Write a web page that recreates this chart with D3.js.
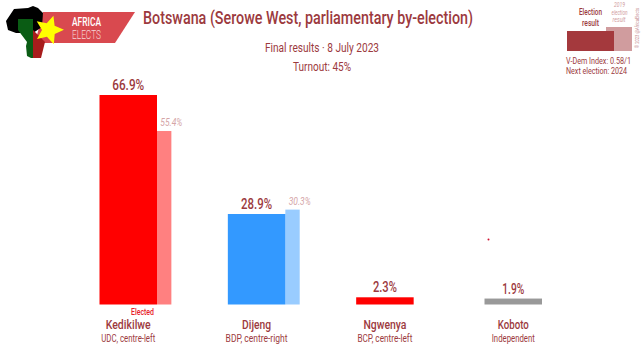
<!DOCTYPE html>
<html>
<head>
<meta charset="utf-8">
<title>Botswana (Serowe West, parliamentary by-election)</title>
<script src="https://d3js.org/d3.v7.min.js"></script>
<style>
  html, body { margin: 0; padding: 0; background: #fff; overflow: hidden; }
  text { font-family: Roboto, sans-serif; fill: #9c3a3e; }
</style>
</head>
<body>
<div id="container"></div>
<script>
// DATA
const candidates = ["Kedikilwe", "Dijeng", "Ngwenya", "Koboto"];
const parties = ["UDC, centre-left", "BDP, centre-right", "BCP, centre-left", "Independent"];
const results = [66.9, 28.9, 2.3, 1.9];
const previous = [55.4, 30.3, null, null];
const barColors = ["#ff0000", "#3399ff", "#ff0000", "#999999"];
const prevColors = ["#ff8080", "#99ccff", null, null];

// label widths measured off the chart, the font there is narrower than anything installed
const resultWidths = [32, 31, 24, 22];
const nameWidths = [45, 29, 43, 31];
const partyWidths = [54, 62, 55, 43];

const width = 644, height = 357;
const svg = d3.select("#container").append("svg")
  .attr("width", width).attr("height", height);

// SCALES
const x = d3.scaleBand().domain(candidates).range([99.5, 542]).paddingInner(0.552).paddingOuter(0);
const y = d3.scaleLinear().domain([0, 66.9]).range([304.5, 95]);
const prevWidth = x.bandwidth() / 4;
const idx = d => candidates.indexOf(d);

// squeeze a text to a given width
function fit(sel, w) {
  return sel.attr("textLength", w).attr("lengthAdjust", "spacingAndGlyphs");
}
function label(txt, px, py, size, w, anchor) {
  const t = svg.append("text").attr("x", px).attr("y", py)
    .attr("text-anchor", anchor || "middle").attr("font-size", size).text(txt);
  return fit(t, w);
}

// PREVIOUS RESULT BARS
svg.selectAll(".prev").data(candidates.filter((d, i) => previous[i] !== null)).enter().append("rect")
  .attr("class", "prev")
  .attr("x", d => x(d) + x.bandwidth())
  .attr("width", prevWidth)
  .attr("y", d => y(previous[idx(d)]))
  .attr("height", d => y(0) - y(previous[idx(d)]))
  .attr("fill", d => prevColors[idx(d)]);

// RESULT BARS
svg.selectAll(".bar").data(candidates).enter().append("rect")
  .attr("class", "bar")
  .attr("x", d => x(d))
  .attr("width", x.bandwidth())
  .attr("y", d => y(results[idx(d)]))
  .attr("height", d => y(0) - y(results[idx(d)]))
  .attr("fill", d => barColors[idx(d)]);

// VALUE LABELS
svg.selectAll(".val").data(candidates).enter().append("text")
  .attr("x", d => x(d) + x.bandwidth() / 2)
  .attr("y", d => y(results[idx(d)]) - 5)
  .attr("text-anchor", "middle")
  .attr("font-size", 14.5)
  .attr("font-weight", 500)
  .attr("textLength", d => resultWidths[idx(d)])
  .attr("lengthAdjust", "spacingAndGlyphs")
  .text(d => results[idx(d)].toFixed(1) + "%");

svg.selectAll(".pval").data(candidates.filter((d, i) => previous[i] !== null)).enter().append("text")
  .attr("x", d => x(d) + x.bandwidth() + prevWidth)
  .attr("y", d => y(previous[idx(d)]) - 5)
  .attr("text-anchor", "middle")
  .attr("font-size", 10)
  .attr("font-style", "italic")
  .attr("textLength", 22)
  .attr("lengthAdjust", "spacingAndGlyphs")
  .style("fill", "#d5a5a7")
  .text(d => previous[idx(d)].toFixed(1) + "%");

// NAMES + PARTIES
svg.selectAll(".name").data(candidates).enter().append("text")
  .attr("x", d => x(d) + x.bandwidth() / 2)
  .attr("y", 329)
  .attr("text-anchor", "middle")
  .attr("font-size", 13)
  .attr("font-weight", 500)
  .attr("textLength", d => nameWidths[idx(d)])
  .attr("lengthAdjust", "spacingAndGlyphs")
  .text(d => d);

svg.selectAll(".party").data(candidates).enter().append("text")
  .attr("x", d => x(d) + x.bandwidth() / 2)
  .attr("y", 342)
  .attr("text-anchor", "middle")
  .attr("font-size", 10)
  .attr("textLength", d => partyWidths[idx(d)])
  .attr("lengthAdjust", "spacingAndGlyphs")
  .text(d => parties[idx(d)]);

label("Elected", 142.5, 315, 8.5, 23).attr("font-weight", 500).style("fill", "#e8202a");

svg.append("circle").attr("cx", 488.5).attr("cy", 239.5).attr("r", 1).attr("fill", "#d01030");

// TITLES
label("Botswana (Serowe West, parliamentary by-election)", 143, 24, 19, 330, "start").attr("font-weight", 500);
label("Final results · 8 July 2023", 322, 52, 12.5, 114);
label("Turnout: 45%", 322, 71, 12.5, 58);

// LOGO
const logo = svg.append("g");
logo.append("path").attr("d", "M43 12H135L115 43H35Z").attr("fill", "#d9494f");
logo.append("path").attr("d", "M6 21L14 9L28 8L33 6L38 8L43 13L42 27L33 33H16L8 30Z").attr("fill", "#000");
logo.append("path").attr("d", "M18 19H33V58H31L27 56L26 46L27 42L18 30Z").attr("fill", "#0a5c14");
logo.append("path").attr("d", "M33 30L45 42L41 58H33Z").attr("fill", "#a81c1c");
const star = d3.range(10).map(i => {
  const r = i % 2 ? 7 : 15, a = i * Math.PI / 5 - Math.PI / 2 + 0.3;
  return [r * Math.cos(a), r * Math.sin(a)];
});
logo.append("path").attr("transform", "translate(49,30)").attr("d", d3.line()(star) + "Z").attr("fill", "#ffff00");
fit(logo.append("text").attr("x", 72).attr("y", 26).attr("font-size", 12).attr("font-weight", 500).style("fill", "#fff").text("AFRICA"), 29);
fit(logo.append("text").attr("x", 72).attr("y", 39).attr("font-size", 12).attr("font-weight", 300).style("fill", "#f5d5d5").text("ELECTS"), 29);

// LEGEND
svg.append("rect").attr("x", 606).attr("y", 27).attr("width", 26).attr("height", 24).attr("fill", "#d09c9e");
svg.append("rect").attr("x", 567).attr("y", 31).attr("width", 47).attr("height", 20).attr("fill", "#a4393d");
label("Election", 590.5, 15, 8.5, 23).attr("font-weight", 500);
label("result", 590.5, 26, 8.5, 17).attr("font-weight", 500);
label("2019", 619.5, 7, 6.5, 11).attr("font-style", "italic").style("fill", "#d09c9e");
label("election", 619.5, 14.5, 6.5, 16).attr("font-style", "italic").style("fill", "#d09c9e");
label("result", 619, 22, 6.5, 13).attr("font-style", "italic").style("fill", "#d09c9e");
label("V-Dem Index: 0.58/1", 566, 64, 8.5, 65, "start");
label("Next election: 2024", 566, 74, 8.5, 61, "start");
fit(svg.append("text").attr("transform", "translate(639,48) rotate(-90)").attr("font-size", 5)
  .style("fill", "#c58f92").text("© 2023 @AfricaElects"), 40);
</script>
</body>
</html>
